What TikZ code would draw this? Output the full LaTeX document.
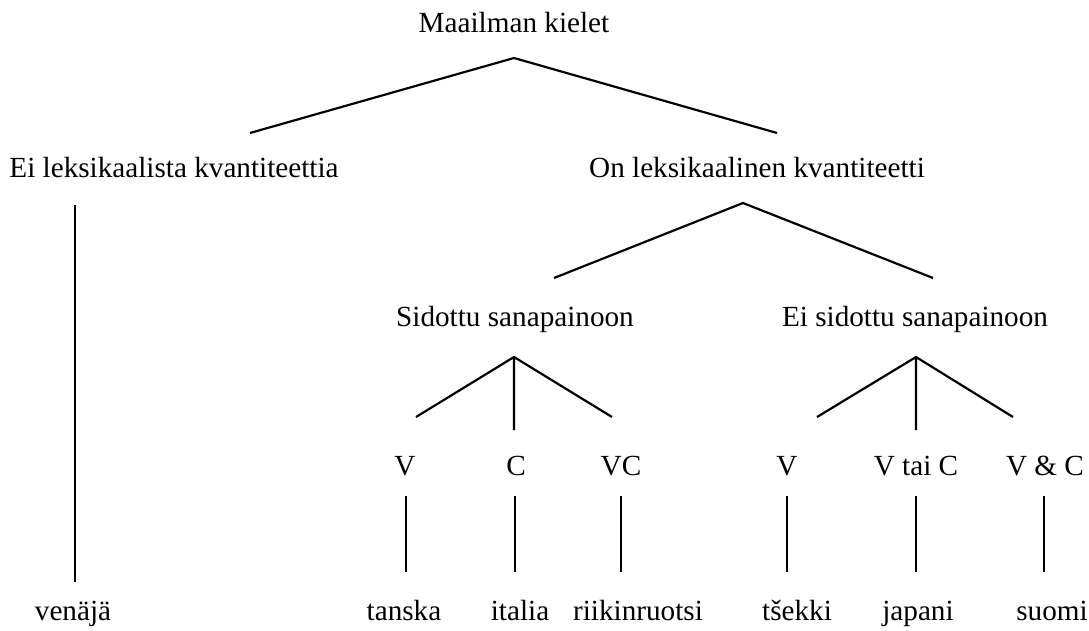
\documentclass[tikz,border=0pt]{standalone}
\usepackage{fontspec}
\setmainfont{Liberation Serif}
\tikzset{
  lbl/.style={anchor=base,inner sep=0pt,font=\fontsize{12}{14}\selectfont},
  haara/.style={line width=0.9pt,line cap=butt},
  viiva/.style={line width=0.8pt}
}
\begin{document}
\begin{tikzpicture}[x=0.411pt,y=-0.411pt,line join=round]
		\useasboundingbox (0,0) rectangle (1089,630);
		%==Taso 0 ja 1
		\node[lbl] (juuri) at (514,33) {Maailman kielet};
		\node[lbl] (eilex) at (174,177) {Ei leksikaalista kvantiteettia};
		\node[lbl] (onlex) at (757,177) {On leksikaalinen kvantiteetti};
		\path (514,58)coordinate(A) (250,133)coordinate(A1) (777,133)coordinate(A2);
		\draw[haara] (A1)--(A)--(A2);
		%==Taso 2
		\node[lbl] (sid) at (515,326) {Sidottu sanapainoon};
		\node[lbl] (eisid) at (915,326) {Ei sidottu sanapainoon};
		\path (743,203)coordinate(B) (554,278)coordinate(B1) (933,278)coordinate(B2);
		\draw[haara] (B1)--(B)--(B2);
		%==Taso 3
		\path (514,357)coordinate(C) (416,417)coordinate(C1) (514,430)coordinate(C2) (612,417)coordinate(C3);
		\path (916,357)coordinate(D) (817,417)coordinate(D1) (916,430)coordinate(D2) (1013,417)coordinate(D3);
		\draw[haara] (C1)--(C)--(C3) (C)--(C2);
		\draw[haara] (D1)--(D)--(D3) (D)--(D2);
		\node[lbl] (sv) at (405,475) {V};
		\node[lbl] (sc) at (516,475) {C};
		\node[lbl] (svc) at (621,475) {VC};
		\node[lbl] (ev) at (787,475) {V};
		\node[lbl] (evtc) at (916,475) {V tai C};
		\node[lbl] (evjc) at (1045,475) {V \& C};
		%==Kielet
		\node[lbl] (ven) at (73,620) {venäjä};
		\node[lbl] (tan) at (404,620) {tanska};
		\node[lbl] (ita) at (520,620) {italia};
		\node[lbl] (rii) at (638,620) {riikinruotsi};
		\node[lbl] (tse) at (797,620) {tšekki};
		\node[lbl] (jap) at (918,620) {japani};
		\node[lbl] (suo) at (1052,620) {suomi};
		\path (75,205)coordinate(V0) (75,582)coordinate(V1);
		\draw[viiva] (V0)--(V1);
		\foreach \x/\n in {406/1,515/2,621/3,787/4,916/5,1044/6}
		  \draw[viiva] (\x,496)coordinate(P\n)--(\x,572)coordinate(Q\n);
		\end{tikzpicture}
\end{document}
